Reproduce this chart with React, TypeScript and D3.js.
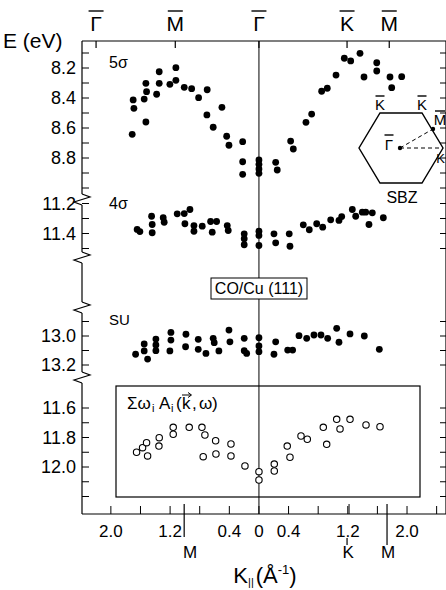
import React from "react";
import * as d3 from "d3";

// ---------- DATA ----------
// [k (Å^-1, negative = left branch), E (eV)]
const sigma5: [number, number][] = [
  [-1.347, 8.225], [-1.122, 8.198], [-1.527, 8.302], [-1.347, 8.302], [-1.203, 8.309],
  [-1.122, 8.282], [-1.009, 8.329], [-0.909, 8.338], [-0.699, 8.345], [-0.815, 8.398],
  [-1.518, 8.358], [-1.382, 8.375], [-1.55, 8.407], [-1.699, 8.413], [-1.689, 8.469],
  [-0.5, 8.462], [-0.703, 8.513], [-1.527, 8.56], [-0.618, 8.595], [-1.712, 8.642],
  [-0.436, 8.655], [-0.405, 8.715], [-0.22, 8.691], [-0.22, 8.825], [-0.22, 8.909],
  [0, 8.813], [0, 8.842], [0, 8.873], [0, 8.902],
  [1.153, 8.135], [1.239, 8.153], [1.365, 8.102], [1.591, 8.165], [1.591, 8.22],
  [1.419, 8.26], [1.77, 8.26], [1.928, 8.258], [1.793, 8.331], [1.041, 8.247],
  [0.923, 8.335], [0.847, 8.355], [0.712, 8.507], [0.635, 8.562], [0.428, 8.687],
  [0.464, 8.74], [0.226, 8.829], [0.247, 8.88],
];

const sigma4: [number, number][] = [
  [-1.645, 11.373], [-1.608, 11.387], [-1.45, 11.285], [-1.442, 11.34], [-1.442, 11.395],
  [-1.293, 11.295], [-1.28, 11.325], [-1.104, 11.269], [-1.009, 11.267], [-0.932, 11.24],
  [-1.0, 11.335], [-0.878, 11.347], [-0.878, 11.385], [-0.766, 11.351], [-0.653, 11.32],
  [-0.572, 11.32], [-0.631, 11.391], [-0.428, 11.347], [-0.415, 11.38], [-0.199, 11.402],
  [-0.199, 11.435], [-0.199, 11.475], [0, 11.385], [0, 11.413], [0, 11.48],
  [0.203, 11.402], [0.226, 11.462], [0.409, 11.402], [0.419, 11.485], [0.599, 11.342],
  [0.68, 11.375], [0.78, 11.335], [0.861, 11.358], [0.969, 11.309], [1.081, 11.313],
  [1.118, 11.287], [1.261, 11.24], [1.307, 11.285], [1.396, 11.258], [1.442, 11.258],
  [1.531, 11.262], [1.486, 11.34], [1.68, 11.295],
];

const su: [number, number][] = [
  [-1.666, 13.126], [-1.55, 13.055], [-1.55, 13.103], [-1.504, 13.159], [-1.392, 13.021],
  [-1.392, 13.062], [-1.392, 13.101], [-1.189, 12.975], [-1.189, 13.028], [-1.203, 13.103],
  [-0.986, 12.988], [-0.991, 13.074], [-0.82, 13.023], [-0.82, 13.092], [-0.716, 13.12],
  [-0.618, 13.016], [-0.604, 13.046], [-0.541, 13.103], [-0.405, 12.959], [-0.392, 13.04],
  [-0.199, 13.016], [-0.199, 13.101], [-0.166, 13.12], [0, 13.012], [0, 13.069],
  [0, 13.108], [0.203, 13.126], [0.226, 13.04], [0.388, 13.097], [0.455, 13.097],
  [0.541, 12.998], [0.645, 13.016], [0.743, 12.993], [0.838, 12.993], [0.928, 13.016],
  [1.05, 12.947], [1.081, 13.043], [1.23, 12.986], [1.423, 13.0], [1.626, 13.092],
];

const theory: [number, number][] = [
  [-1.653, 11.9], [-1.572, 11.869], [-1.518, 11.835], [-1.504, 11.925], [-1.347, 11.801],
  [-1.351, 11.858], [-1.158, 11.731], [-1.158, 11.778], [-0.942, 11.731], [-0.77, 11.731],
  [-0.73, 11.783], [-0.585, 11.822], [-0.753, 11.93], [-0.581, 11.912], [-0.378, 11.844],
  [-0.378, 11.925], [-0.189, 11.993], [0, 12.032], [0, 12.088], [0.207, 11.98],
  [0.207, 12.027], [0.382, 11.858], [0.419, 11.934], [0.568, 11.79], [0.653, 11.812],
  [0.869, 11.731], [0.915, 11.846], [1.05, 11.677], [1.095, 11.742], [1.23, 11.677],
  [1.446, 11.715], [1.635, 11.727],
];

const ticks5 = [8.1, 8.2, 8.3, 8.4, 8.5, 8.6, 8.7, 8.8, 8.9, 9.0];
const labels5 = [8.2, 8.4, 8.6, 8.8];
const ticks4 = [11.2, 11.3, 11.4, 11.5];
const labels4 = [11.2, 11.4];
const ticksSU = [12.9, 13.0, 13.1, 13.2];
const labelsSU = [13.0, 13.2];
const ticksT = [11.6, 11.7, 11.8, 11.9, 12.0, 12.1, 12.2];
const labelsT = [11.6, 11.8, 12.0];

const kTicks = [-2.0, -1.6, -1.2, -0.8, -0.4, 0, 0.4, 0.8, 1.2, 1.6, 2.0, 2.4];
const kLabels = [-2.0, -1.2, -0.4, 0, 0.4, 1.2, 2.0];
const topPoints = [
  { k: -2.2, s: "Γ" }, { k: -1.13, s: "M" }, { k: 0, s: "Γ" }, { k: 1.19, s: "K" }, { k: 1.76, s: "M" },
];
const bottomPoints = [
  { k: -1.01, s: "M", len: 23 }, { k: 1.19, s: "K", len: 0 }, { k: 1.73, s: "M", len: 31 },
];

// ---------- LAYOUT ----------
const AX = 82;
const RX = 447;
const TOP = 41;
const BOT = 514;
const FONT = "'Liberation Sans', Arial, Helvetica, sans-serif";

const x = d3.scaleLinear().domain([-2.39, 2.54]).range([AX, RX]);
const y5 = d3.scaleLinear().domain([8.2, 8.8]).range([68, 158]);
const y4 = d3.scaleLinear().domain([11.2, 11.5]).range([203.5, 248.5]);
const ySU = d3.scaleLinear().domain([13.0, 13.2]).range([336, 365]);
const yT = d3.scaleLinear().domain([11.6, 12.0]).range([408, 467]);

const zig = (y: number) =>
  `M${AX},${y - 6} L${AX + 8},${y - 3} L${AX - 8},${y + 2} L${AX},${y + 5}`;

function Bar({ x0, y0, w }: { x0: number; y0: number; w: number }) {
  return <line x1={x0 - w / 2} x2={x0 + w / 2} y1={y0} y2={y0} stroke="#000" strokeWidth={1.4} />;
}

export default function App() {
  const fmt = d3.format(".1f");
  const panels = [
    { sc: y5, ticks: ticks5, labels: labels5 },
    { sc: y4, ticks: ticks4, labels: labels4 },
    { sc: ySU, ticks: ticksSU, labels: labelsSU },
    { sc: yT, ticks: ticksT, labels: labelsT },
  ];
  const r = 3.4;
  return (
    <svg width={446} height={590} style={{ position: "absolute", left: 0, top: 0, background: "#fff" }}
      fontFamily={FONT}>
      <rect width={446} height={590} fill="#fff" />
      {/* frame top & bottom */}
      <line x1={AX} x2={RX} y1={TOP} y2={TOP} stroke="#000" strokeWidth={1.2} />
      <line x1={AX} x2={RX} y1={BOT} y2={BOT} stroke="#000" strokeWidth={1.2} />
      <line x1={RX - 1} x2={RX - 1} y1={TOP} y2={BOT} stroke="#000" strokeWidth={1.2} />

      {/* left axis segments */}
      <g stroke="#000" strokeWidth={1.2} fill="none">
        <line x1={AX} x2={AX} y1={TOP} y2={194} />
        <path d={zig(200)} />
        <line x1={AX} x2={AX} y1={205} y2={252} />
        <path d={zig(258)} />
        <line x1={AX} x2={AX} y1={263} y2={302} />
        <path d={zig(308)} />
        <line x1={AX} x2={AX} y1={313} y2={372} />
        <path d={zig(378)} />
        <line x1={AX} x2={AX} y1={383} y2={BOT} />
      </g>

      {/* y ticks and labels */}
      {panels.map((p, i) => (
        <g key={i}>
          {p.ticks.map((t) => (
            <g key={t}>
              <line x1={AX} x2={AX + 7} y1={p.sc(t)} y2={p.sc(t)} stroke="#000" strokeWidth={1} />
              <line x1={RX - 7} x2={RX} y1={p.sc(t)} y2={p.sc(t)} stroke="#000" strokeWidth={1} />
            </g>
          ))}
          {p.labels.map((t) => (
            <text key={t} x={AX - 6} y={p.sc(t)} dy="0.36em" textAnchor="end" fontSize={18}>
              {fmt(t)}
            </text>
          ))}
        </g>
      ))}

      {/* center line */}
      <line x1={x(0)} x2={x(0)} y1={TOP} y2={BOT} stroke="#000" strokeWidth={1} />

      {/* top symmetry labels */}
      {topPoints.map((p, i) => (
        <g key={i}>
          <line x1={x(p.k)} x2={x(p.k)} y1={TOP} y2={TOP + 7} stroke="#000" strokeWidth={1.2} />
          <text x={x(p.k)} y={31} textAnchor="middle" fontSize={21}>{p.s}</text>
          <Bar x0={x(p.k)} y0={11} w={15} />
        </g>
      ))}

      {/* E(eV) */}
      <text x={3} y={48} fontSize={21}>E (eV)</text>

      {/* bottom axis ticks */}
      {kTicks.map((t) => (
        <line key={t} x1={x(t)} x2={x(t)} y1={BOT} y2={BOT - 8} stroke="#000" strokeWidth={1} />
      ))}
      {kLabels.map((t) => (
        <text key={t} x={x(t)} y={537} textAnchor="middle" fontSize={17}>
          {t === 0 ? "0" : fmt(Math.abs(t))}
        </text>
      ))}
      {bottomPoints.map((p, i) => (
        <g key={i}>
          {p.len > 0 ? (
            <line x1={x(p.k)} x2={x(p.k)} y1={BOT - 10} y2={BOT + p.len} stroke="#000" strokeWidth={1.2} />
          ) : (
            <>
              <line x1={x(p.k) + 2} x2={x(p.k) + 2} y1={BOT - 10} y2={BOT} stroke="#000" strokeWidth={1} />
              <line x1={x(p.k)} x2={x(p.k)} y1={538} y2={545} stroke="#000" strokeWidth={1.2} />
            </>
          )}
          <text x={x(p.k) + (p.s === "M" && p.k < 0 ? 6 : 1)} y={558} textAnchor="middle" fontSize={17}>
            {p.s}
          </text>
        </g>
      ))}

      {/* axis title */}
      <text x={265} y={583} textAnchor="middle" fontSize={22} fill="#000">
        <tspan>K</tspan>
        <tspan fontSize={11} dy={3}>||</tspan>
        <tspan dy={-3} dx={2}>(Å</tspan>
        <tspan fontSize={13} dy={-9}>-1</tspan>
        <tspan dy={9}>)</tspan>
      </text>

      {/* panel labels */}
      <text x={109} y={68} fontSize={16}>5σ</text>
      <text x={109} y={209} fontSize={16}>4σ</text>
      <text x={109} y={325} fontSize={15}>SU</text>

      {/* CO/Cu box */}
      <rect x={211} y={278} width={96} height={21} fill="#fff" stroke="#000" strokeWidth={1} />
      <text x={259} y={294} textAnchor="middle" fontSize={16}>CO/Cu (111)</text>

      {/* theory box */}
      <rect x={116} y={386} width={304} height={111} fill="none" stroke="#000" strokeWidth={1.2} />
      <g fontSize={17}>
        <text x={127} y={409}>Σω</text>
        <text x={152} y={412} fontSize={11}>i</text>
        <text x={159} y={409}>A</text>
        <text x={171} y={412} fontSize={11}>i</text>
        <text x={176} y={409}>(</text>
        <text x={182} y={409}>k</text>
        <text x={192} y={409}>,</text>
        <text x={199} y={409}>ω</text>
        <text x={212} y={409}>)</text>
      </g>
      <line x1={182} x2={191} y1={395} y2={395} stroke="#000" strokeWidth={1} />
      <path d="M188,392.5 L191.5,395 L188,397.5" fill="none" stroke="#000" strokeWidth={1} />

      {/* data */}
      {sigma5.map((d, i) => <circle key={"a" + i} cx={x(d[0])} cy={y5(d[1])} r={r} fill="#000" />)}
      {sigma4.map((d, i) => <circle key={"b" + i} cx={x(d[0])} cy={y4(d[1])} r={r} fill="#000" />)}
      {su.map((d, i) => <circle key={"c" + i} cx={x(d[0])} cy={ySU(d[1])} r={r} fill="#000" />)}
      {theory.map((d, i) => (
        <circle key={"d" + i} cx={x(d[0])} cy={yT(d[1])} r={3.2} fill="#fff" stroke="#000" strokeWidth={1.1} />
      ))}

      {/* SBZ inset */}
      <g>
        <path d="M380,113 L422,113 L443,148 L422,183 L380,183 L359,148 Z" fill="#fff" stroke="#000" strokeWidth={1.4} />
        <line x1={400} y1={148} x2={433} y2={129} stroke="#000" strokeWidth={1} strokeDasharray="4,3" />
        <line x1={400} y1={148} x2={443} y2={148} stroke="#000" strokeWidth={1} strokeDasharray="4,3" />
        <circle cx={400} cy={148} r={2.2} fill="#000" />
        <circle cx={433} cy={129} r={2.2} fill="#000" />
        <text x={389} y={150} textAnchor="middle" fontSize={15}>Γ</text>
        <Bar x0={389} y0={135} w={9} />
        <text x={380} y={110} textAnchor="middle" fontSize={15}>K</text>
        <Bar x0={380} y0={96} w={9} />
        <text x={422} y={110} textAnchor="middle" fontSize={15}>K</text>
        <Bar x0={422} y0={96} w={9} />
        <text x={440} y={125} textAnchor="middle" fontSize={15}>M</text>
        <Bar x0={440} y0={111} w={10} />
        <text x={445} y={163} textAnchor="end" fontSize={13}>K</text>
        <text x={402} y={203} textAnchor="middle" fontSize={16}>SBZ</text>
      </g>
    </svg>
  );
}
